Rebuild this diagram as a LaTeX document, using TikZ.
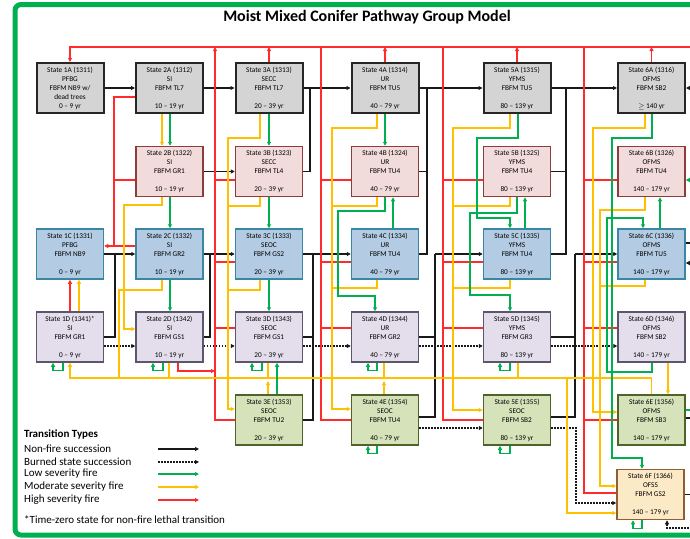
\documentclass[tikz,border=0pt]{standalone}
\usepackage{fontspec}
\setmainfont{Carlito}
\usetikzlibrary{arrows.meta}
\definecolor{fgreen}{HTML}{00B050}
\definecolor{lgreen}{HTML}{00B050}
\definecolor{lyel}{HTML}{FFC000}
\definecolor{lred}{HTML}{FF2A2A}
\definecolor{fillA}{HTML}{D4D4D4}
\definecolor{drawA}{HTML}{262626}
\definecolor{fillB}{HTML}{F2DCDB}
\definecolor{drawB}{HTML}{8E3B3B}
\definecolor{fillC}{HTML}{B3CBE3}
\definecolor{drawC}{HTML}{3A87A3}
\definecolor{fillD}{HTML}{E4DEEC}
\definecolor{drawD}{HTML}{5B566B}
\definecolor{fillE}{HTML}{D5E2BA}
\definecolor{drawE}{HTML}{4F6228}
\definecolor{fillF}{HTML}{FCEAC6}
\definecolor{drawF}{HTML}{8F5E34}
\begin{document}
\begin{tikzpicture}[x=1pt,y=-1pt,
  stbox/.style={draw, minimum width=67pt, minimum height=50pt, inner sep=0pt, align=center, font=\fontsize{7.3}{9}\selectfont, line width=1.5pt},
  rowA/.style={stbox, fill=fillA, draw=drawA, line width=2pt},
  rowB/.style={stbox, fill=fillB, draw=drawB},
  rowC/.style={stbox, fill=fillC, draw=drawC},
  rowD/.style={stbox, fill=fillD, draw=drawD},
  rowE/.style={stbox, fill=fillE, draw=drawE},
  rowF/.style={stbox, fill=fillF, draw=drawF},
  arw/.style={-{Triangle[length=4pt,width=4pt]}},
  blk/.style={draw=black!90, line width=1.3pt},
  dotl/.style={blk, dash pattern=on 1.6pt off 1.4pt},
  grn/.style={draw=lgreen, line width=1.3pt},
  yel/.style={draw=lyel, line width=1.3pt},
  rd/.style={draw=lred, line width=1.3pt},
  lgtext/.style={anchor=west, inner sep=0pt, font=\fontsize{11}{12}\selectfont}
]
\useasboundingbox (0,0) rectangle (690,538);
\fill[white] (0,0) rectangle (690,538);
\draw[fgreen, line width=5pt, rounded corners=6pt] (15,4.5) rectangle (740,535);

\node[font=\fontsize{16}{19}\selectfont\bfseries] (title) at (367,17) {Moist Mixed Conifer Pathway Group Model};

% boxes
\node[rowA] (b1A) at (70,88) {State 1A (1311)\\PFBG\\FBFM NB9 w/\\dead trees\\0 – 9 yr};
\node[rowA] (b2A) at (169.5,88) {State 2A (1312)\\SI\\FBFM TL7\\[9pt]10 – 19 yr};
\node[rowA] (b3A) at (269,88) {State 3A (1313)\\SECC\\FBFM TL7\\[9pt]20 – 39 yr};
\node[rowA] (b4A) at (385,88) {State 4A (1314)\\UR\\FBFM TU5\\[9pt]40 – 79 yr};
\node[rowA] (b5A) at (517,88) {State 5A (1315)\\YFMS\\FBFM TU5\\[9pt]80 – 139 yr};
\node[rowA] (b6A) at (651.5,88) {State 6A (1316)\\OFMS\\FBFM SB2\\[9pt]$\geq$ 140 yr};

\node[rowB] (b2B) at (169.5,171.5) {State 2B (1322)\\SI\\FBFM GR1\\[9pt]10 – 19 yr};
\node[rowB] (b3B) at (269,171.5) {State 3B (1323)\\SECC\\FBFM TL4\\[9pt]20 – 39 yr};
\node[rowB] (b4B) at (385,171.5) {State 4B (1324)\\UR\\FBFM TU4\\[9pt]40 – 79 yr};
\node[rowB] (b5B) at (517,171.5) {State 5B (1325)\\YFMS\\FBFM TU4\\[9pt]80 – 139 yr};
\node[rowB] (b6B) at (651.5,171.5) {State 6B (1326)\\OFMS\\FBFM TU4\\[9pt]140 – 179 yr};

\node[rowC] (b1C) at (70,254) {State 1C (1331)\\PFBG\\FBFM NB9\\[9pt]0 – 9 yr};
\node[rowC] (b2C) at (169.5,254) {State 2C (1332)\\SI\\FBFM GR2\\[9pt]10 – 19 yr};
\node[rowC] (b3C) at (269,254) {State 3C (1333)\\SEOC\\FBFM GS2\\[9pt]20 – 39 yr};
\node[rowC] (b4C) at (385,254) {State 4C (1334)\\UR\\FBFM TU4\\[9pt]40 – 79 yr};
\node[rowC] (b5C) at (517,254) {State 5C (1335)\\YFMS\\FBFM TU4\\[9pt]80 – 139 yr};
\node[rowC] (b6C) at (651.5,254) {State 6C (1336)\\OFMS\\FBFM TU5\\[9pt]140 – 179 yr};

\node[rowD] (b1D) at (70,337) {State 1D (1341)*\\SI\\FBFM GR1\\[9pt]0 – 9 yr};
\node[rowD] (b2D) at (169.5,337) {State 2D (1342)\\SI\\FBFM GS1\\[9pt]10 – 19 yr};
\node[rowD] (b3D) at (269,337) {State 3D (1343)\\SEOC\\FBFM GS1\\[9pt]20 – 39 yr};
\node[rowD] (b4D) at (385,337) {State 4D (1344)\\UR\\FBFM GR2\\[9pt]40 – 79 yr};
\node[rowD] (b5D) at (517,337) {State 5D (1345)\\YFMS\\FBFM GR3\\[9pt]80 – 139 yr};
\node[rowD] (b6D) at (651.5,337) {State 6D (1346)\\OFMS\\FBFM SB2\\[9pt]140 – 179 yr};

\node[rowE] (b3E) at (269,420) {State 3E (1353)\\SEOC\\FBFM TU2\\[9pt]20 – 39 yr};
\node[rowE] (b4E) at (385,420) {State 4E (1354)\\SEOC\\FBFM TU4\\[9pt]40 – 79 yr};
\node[rowE] (b5E) at (517,420) {State 5E (1355)\\SEOC\\FBFM SB2\\[9pt]80 – 139 yr};
\node[rowE] (b6E) at (651.5,420) {State 6E (1356)\\OFMS\\FBFM SB3\\[9pt]140 – 179 yr};

\node[rowF] (b6F) at (650.5,494.5) {State 6F (1366)\\OFSS\\FBFM GS2\\[9pt]140 – 179 yr};

% edge coordinates
\coordinate (rT) at (692,47);
\coordinate (rA) at (692,88);
\coordinate (rB) at (692,180);
\coordinate (rC1) at (692,243);
\coordinate (rC2) at (692,263);
\coordinate (rE1) at (692,410);
\coordinate (rE2) at (692,418);
\coordinate (rF1) at (692,494.5);
\coordinate (rF2) at (692,528);

% ---------- black succession ----------
\draw[blk,arw] (b1A.east) -- (b2A.west);
\draw[blk,arw] (b2A.east) -- (b3A.west);
\draw[blk,arw] (b3A.east) -- (b4A.west);
\draw[blk,arw] (b4A.east) -- (b5A.west);
\draw[blk,arw] (b5A.east) -- (b6A.west);
\draw[blk,arw] (rA) -- (b6A.east);
\draw[blk,arw] (b2B.east) -- (b3B.west);
\draw[blk] (b3B.east) -| (310,88);
\draw[blk] (b4B.east) -| (427,88);
\draw[blk] (b4C.east) -| (427,171.5);
\draw[blk] (b5B.east) -| (566,88);
\draw[blk] (b5C.east) -| (566,171.5);
\draw[blk,arw] (b1C.east) -- (b2C.west);
\draw[blk,arw] (b2C.east) -- (b3C.west);
\draw[blk,arw] (b3C.east) -- (b4C.west);
\draw[blk,arw] (435,254) -- (b5C.west);
\draw[blk,arw] (575,254) -- (b6C.west);
\draw[blk] (b1D.east) -| (115,254);
\draw[blk] (b2D.east) -| (210,254);
\draw[blk] (b3D.east) -| (313,254);
\draw[blk] (b3E.east) -| (313,337);
\draw[blk] (b4D.east) -| (435,254);
\draw[blk] ([yshift=3pt]b4E.east) -| (435,337);
\draw[blk] (b5D.east) -| (575,254);
\draw[blk] ([yshift=3pt]b5E.east) -| (575,337);
\draw[blk] (b6C.east |- rC1) -- (rC1);
\draw[blk,arw] (rC2) -- (b6C.east |- rC2);
\draw[blk] (b6E.east |- rE2) -- (rE2);
\draw[blk] (b6F.east) -- (rF1);

% ---------- burned state succession ----------
\foreach \a/\b in {1D/2D,2D/3D,3D/4D,4D/5D,5D/6D}
  \draw[dotl,arw] ([yshift=-9pt]b\a.east) -- ([yshift=-9pt]b\b.west);
\draw[dotl,arw] ([yshift=-8pt]b4E.east) -- ([yshift=-8pt]b5E.west);
\draw[dotl,arw] ([yshift=-8pt]b5E.east) -| (576,503) -- (b6F.west |- 0,503);
\draw[dotl,arw] (rF2) -| (667,0 |- b6F.south);

% ---------- high severity (red) ----------
\draw[rd,arw] (rT) -| (b1A.north);
\foreach \c in {3A,4A,5A,6A}
  \draw[rd,arw] (b\c.north) -- (b\c.north |- rT);
\draw[rd,arw] (b2A.west |- 0,97) -| (114,246) -- (b1C.east |- 0,246);
\draw[rd] (b2B.west |- 0,180) -- (114,180);
\draw[rd] (b2C.west |- 0,246) -- (114,246);
\draw[rd,arw] (b1D.north) -- (b1C.south);
\draw[rd,arw] (b3E.west) -| (215,47);
\foreach \r/\y in {3B/180,3C/262,3D/328}
  \draw[rd] (b\r.west |- 0,\y) -- (215,\y);
\draw[rd,arw] (178,0 |- b2D.south) |- (215,371);
\draw[rd] (b4E.west) -| (321,47);
\foreach \r/\y in {4B/180,4C/262,4D/328}
  \draw[rd] (b\r.west |- 0,\y) -- (321,\y);
\draw[rd] (b5E.west) -| (443,47);
\foreach \r/\y in {5B/180,5C/262,5D/328}
  \draw[rd] (b\r.west |- 0,\y) -- (443,\y);
\draw[rd] (b6F.west |- 0,493) -| (584,47);
\foreach \r/\y in {6B/180,6C/262,6D/328,6E/420}
  \draw[rd] (b\r.west |- 0,\y) -- (584,\y);

% ---------- moderate severity (yellow) ----------
\draw[yel,arw] (79,0 |- b1D.north) -- (79,0 |- b1C.south);
\draw[yel,arw] (162,0 |- b2A.south) -- (162,0 |- b2B.north);
\draw[yel,arw] (162,0 |- b2B.south) |- (124,205) |- (b2D.west |- 0,329);
\draw[yel] (162,0 |- b2C.south) |- (119,290) -- (119,378);
\draw[yel,arw] (b6E.north) |- (70,378) -- (b1D.south);
\foreach \x/\b in {169/2D,268/3D,384/4D,518/5D}
  \draw[yel] (\x,0 |- b\b.south) -- (\x,378);
\draw[yel,arw] (268,0 |- b3E.north) -- (268,381);
\draw[yel,arw] (384,0 |- b4E.north) -- (384,381);
\draw[yel,arw] (260,0 |- b3A.south) |- (228,138) |- (b3E.west |- 0,409);
\draw[yel] (260,0 |- b3B.south) |- (228,206);
\draw[yel] (260,0 |- b3C.south) |- (228,290);
\draw[yel,arw] (377,0 |- b4A.south) |- (332,128) |- (b4E.west |- 0,409);
\draw[yel] (377,0 |- b4B.south) |- (332,206);
\draw[yel] (377,0 |- b4C.south) |- (332,288);
\draw[yel,arw] (510,0 |- b5A.south) |- (453,128) |- (b5E.west |- 0,410);
\draw[yel] (510,0 |- b5B.south) |- (453,206);
\draw[yel] (510,0 |- b5C.south) |- (453,288);
\draw[yel,arw] (645,0 |- b6A.south) |- (593,128) |- (b6E.west |- 0,412);
\draw[yel,arw] (645,0 |- b6B.south) |- (600,210) |- (b6F.west |- 0,486);
\draw[yel] (645,0 |- b6C.south) |- (600,286);
\draw[yel,arw] (668,0 |- b6D.south) -- (668,0 |- b6E.north);
\draw[yel,arw] (567,378) |- (b6F.west |- 0,513);

% ---------- low severity (green) ----------
\draw[grn,arw] (170,0 |- b2A.south) -- (170,0 |- b2B.north);
\draw[grn,arw] (170,0 |- b2B.south) -- (170,0 |- b2C.north);
\draw[grn,arw] (170,0 |- b2C.south) -- (170,0 |- b2D.north);
\draw[grn,arw] (269,0 |- b3A.south) -- (269,0 |- b3B.north);
\draw[grn,arw] (269,0 |- b3B.south) -- (269,0 |- b3C.north);
\draw[grn,arw] (269,0 |- b3C.south) -- (269,0 |- b3D.north);
\draw[grn,arw] (277,0 |- b3E.north) -- (277,0 |- b3D.south);
\draw[grn,arw] (385,0 |- b4A.south) -- (385,0 |- b4B.north);
\draw[grn,arw] (393,0 |- b4C.north) -- (393,0 |- b4B.south);
\draw[grn,arw] (385,0 |- b4B.south) |- (338,211) |- (375,296) -- (375,0 |- b4D.north);
\draw[grn,arw] (518,0 |- b5A.south) |- (477,138) |- (510,218) -- (510,0 |- b5C.north);
\draw[grn,arw] (525,0 |- b5C.north) -- (525,0 |- b5B.south);
\draw[grn,arw] (517,0 |- b5B.south) |- (470,213) |- (510,295) -- (510,0 |- b5D.north);
\draw[grn,arw] (660,0 |- b6C.north) -- (660,0 |- b6B.south);
\draw[grn,arw] (652,0 |- b6A.south) |- (612,138) |- (642,458) -- (642,0 |- b6F.north);
\draw[grn,arw] (652,0 |- b6D.south) |- (607,372) |- (643,218) -- (643,0 |- b6C.north);
\draw[grn,arw] (rB) -- (b6B.east |- rB);
\draw[grn] (b6E.east |- rE1) -- (rE1);
\foreach \b/\xa/\xb in {1D/53/63,2D/153/163,3D/252/262,4D/368/377,5D/500/510,4E/368/377,5E/500/510,6F/633/642}
  \draw[grn,arw] (\xb,0 |- b\b.south) -- ++(0,8) -| (\xa,0 |- b\b.south);

% ---------- legend ----------
\node[lgtext, font=\fontsize{11}{12}\selectfont\bfseries] (lgT) at (24,434) {Transition Types};
\node[lgtext] (lg1) at (24,449) {Non-fire succession};
\node[lgtext] (lg2) at (24,462) {Burned state succession};
\node[lgtext] (lg3) at (24,474) {Low severity fire};
\node[lgtext] (lg4) at (24,487) {Moderate severity fire};
\node[lgtext] (lg5) at (24,500) {High severity fire};
\node[lgtext] (foot) at (24,520) {*Time-zero state for non-fire lethal transition};
\coordinate (la1) at (158,449); \coordinate (lb1) at (199,449);
\coordinate (la2) at (158,462); \coordinate (lb2) at (199,462);
\coordinate (la3) at (158,474); \coordinate (lb3) at (199,474);
\coordinate (la4) at (158,487); \coordinate (lb4) at (199,487);
\coordinate (la5) at (158,500); \coordinate (lb5) at (199,500);
\draw[blk,arw] (la1) -- (lb1);
\draw[dotl,arw] (la2) -- (lb2);
\draw[grn,arw] (la3) -- (lb3);
\draw[yel,arw] (la4) -- (lb4);
\draw[rd,arw] (la5) -- (lb5);
\end{tikzpicture}
\end{document}
